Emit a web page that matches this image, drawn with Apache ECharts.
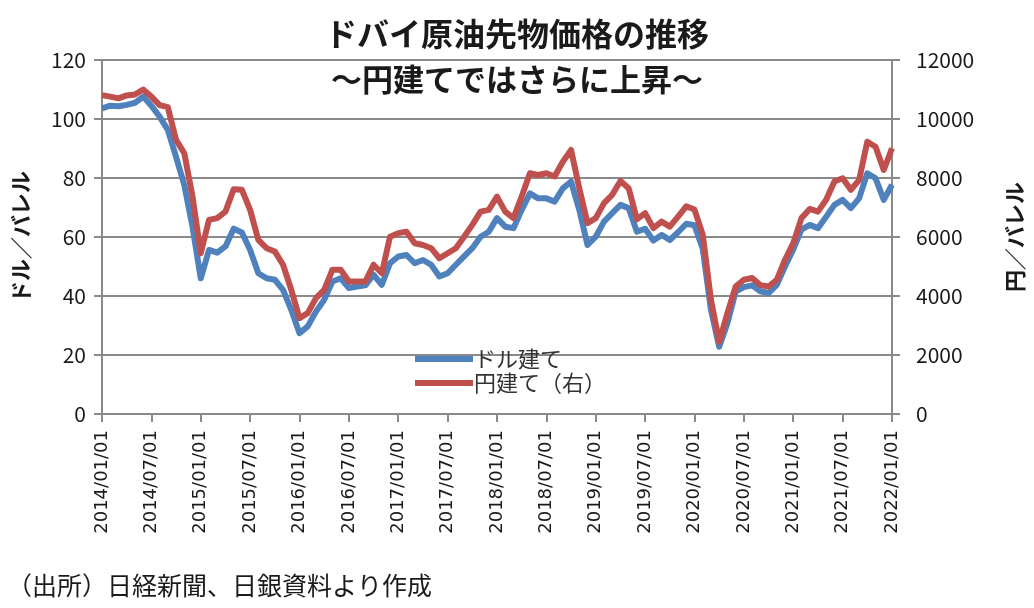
<!DOCTYPE html>
<html>
<head>
<meta charset="utf-8">
<script src="https://cdn.jsdelivr.net/npm/echarts@6/dist/echarts.min.js"></script>
<style>
html,body{margin:0;padding:0;background:#fff;}
#chart{width:1034px;height:608px;}
</style>
</head>
<body>
<div id="chart"></div>
<script>
// Monthly categories 2014/01 .. 2022/01
const categories = [
  "2014/01/01","2014/02/01","2014/03/01","2014/04/01","2014/05/01","2014/06/01","2014/07/01","2014/08/01","2014/09/01","2014/10/01","2014/11/01","2014/12/01",
  "2015/01/01","2015/02/01","2015/03/01","2015/04/01","2015/05/01","2015/06/01","2015/07/01","2015/08/01","2015/09/01","2015/10/01","2015/11/01","2015/12/01",
  "2016/01/01","2016/02/01","2016/03/01","2016/04/01","2016/05/01","2016/06/01","2016/07/01","2016/08/01","2016/09/01","2016/10/01","2016/11/01","2016/12/01",
  "2017/01/01","2017/02/01","2017/03/01","2017/04/01","2017/05/01","2017/06/01","2017/07/01","2017/08/01","2017/09/01","2017/10/01","2017/11/01","2017/12/01",
  "2018/01/01","2018/02/01","2018/03/01","2018/04/01","2018/05/01","2018/06/01","2018/07/01","2018/08/01","2018/09/01","2018/10/01","2018/11/01","2018/12/01",
  "2019/01/01","2019/02/01","2019/03/01","2019/04/01","2019/05/01","2019/06/01","2019/07/01","2019/08/01","2019/09/01","2019/10/01","2019/11/01","2019/12/01",
  "2020/01/01","2020/02/01","2020/03/01","2020/04/01","2020/05/01","2020/06/01","2020/07/01","2020/08/01","2020/09/01","2020/10/01","2020/11/01","2020/12/01",
  "2021/01/01","2021/02/01","2021/03/01","2021/04/01","2021/05/01","2021/06/01","2021/07/01","2021/08/01","2021/09/01","2021/10/01","2021/11/01","2021/12/01",
  "2022/01/01"
];

// ドル建て (USD/bbl, left axis)
const usdValues = [
  103.6,104.5,104.3,104.8,105.5,107.6,104.5,100.8,96.3,87.2,77.6,63.5,
  46.0,55.6,54.7,56.8,62.8,61.5,55.6,47.7,46.0,45.5,42.1,35.3,
  27.4,29.7,34.7,38.7,44.9,46.0,42.7,43.2,43.6,47.2,43.8,51.1,
  53.4,53.9,51.1,52.2,50.6,46.6,47.7,50.6,53.4,56.2,60.1,61.8,
  66.4,63.5,63.0,69.2,74.8,73.1,73.1,72.0,76.5,78.8,69.2,57.3,
  60.1,65.2,68.1,70.9,69.8,61.8,62.8,58.8,60.7,59.0,61.6,64.5,
  64.0,56.0,35.3,22.8,30.8,41.5,43.0,43.6,41.6,41.0,43.8,50.0,
  55.8,62.5,64.1,63.0,66.9,70.9,72.6,69.8,73.1,81.6,79.9,72.6,
  77.7
];

// 円建て (JPY/bbl, right axis)
const jpyValues = [
  10810,10760,10700,10800,10830,11000,10760,10470,10400,9290,8840,7370,
  5450,6580,6640,6860,7620,7600,6920,5900,5620,5510,5060,4210,
  3250,3420,3930,4210,4890,4890,4490,4490,4490,5060,4770,6010,
  6130,6180,5790,5730,5620,5280,5450,5620,6010,6410,6860,6920,
  7370,6860,6640,7370,8160,8100,8160,8050,8550,8950,7650,6470,
  6640,7150,7430,7900,7650,6600,6810,6300,6520,6350,6690,7040,
  6930,6080,3870,2440,3420,4320,4550,4610,4370,4320,4550,5230,
  5790,6640,6950,6860,7260,7880,7990,7600,7930,9230,9060,8270,
  9010
];

const leftTicks = {min: 0, max: 120, interval: 20};
const rightTicks = {min: 0, max: 12000, interval: 2000};

const seriesNames = ["ドル建て", "円建て（右）"];
const titleText = "ドバイ原油先物価格の推移";
const subtitleText = "～円建てではさらに上昇～";
const sourceText = "（出所）日経新聞、日銀資料より作成";

const FONT = '"Noto Sans CJK JP", "Noto Sans", sans-serif';
const GRID = '#8a8a8a';
const TXT = '#1a1a1a';

const chart = echarts.init(document.getElementById('chart'));
chart.setOption({
  animation: false,
  backgroundColor: '#fff',
  textStyle: {fontFamily: FONT},
  title: [
    {text: titleText, left: 'center', top: 13,
     textStyle: {fontFamily: FONT, fontSize: 32, fontWeight: 'bold', color: TXT}},
    {text: subtitleText, left: 'center', top: 59,
     textStyle: {fontFamily: FONT, fontSize: 31, fontWeight: 'bold', color: TXT}},
    {text: sourceText, left: 2, top: 568,
     textStyle: {fontFamily: FONT, fontSize: 25, fontWeight: 'normal', color: TXT}}
  ],
  legend: {
    orient: 'vertical',
    left: 410, top: 343,
    itemWidth: 58, itemHeight: 6, itemGap: 2,
    icon: 'rect',
    textStyle: {fontFamily: FONT, fontSize: 22, color: '#333', padding: [0,0,0,-4]},
    data: seriesNames
  },
  grid: {left: 102, right: 141, top: 60, bottom: 194, containLabel: false},
  xAxis: {
    type: 'category',
    data: categories,
    boundaryGap: false,
    axisLine: {show: true, lineStyle: {color: GRID, width: 2}},
    axisTick: {show: true, interval: 5, length: 8, lineStyle: {color: GRID, width: 2}},
    axisLabel: {interval: 5, rotate: 90, margin: 16, color: TXT,
      fontFamily: '"DejaVu Sans", sans-serif', fontSize: 18},
    splitLine: {show: false}
  },
  yAxis: [
    {type: 'value', min: leftTicks.min, max: leftTicks.max, interval: leftTicks.interval,
     position: 'left',
     name: 'ドル／バレル', nameLocation: 'middle', nameRotate: 90, nameGap: 70,
     nameTextStyle: {fontFamily: FONT, fontSize: 22, fontWeight: 'bold', color: TXT},
     axisLine: {show: true, lineStyle: {color: GRID, width: 2}},
     axisTick: {show: true, length: 8, lineStyle: {color: GRID, width: 2}},
     axisLabel: {margin: 16, color: TXT, fontFamily: FONT, fontSize: 21},
     splitLine: {show: true, lineStyle: {color: GRID, width: 2}}},
    {type: 'value', min: rightTicks.min, max: rightTicks.max, interval: rightTicks.interval,
     position: 'right',
     name: '円／バレル', nameLocation: 'middle', nameRotate: 90, nameGap: 112,
     nameTextStyle: {fontFamily: FONT, fontSize: 22, fontWeight: 'bold', color: TXT},
     axisLine: {show: true, lineStyle: {color: GRID, width: 2}},
     axisTick: {show: true, length: 8, lineStyle: {color: GRID, width: 2}},
     axisLabel: {margin: 24, color: TXT, fontFamily: FONT, fontSize: 21,
       formatter: function (v) { return String(v); }},
     splitLine: {show: false}}
  ],
  series: [
    {name: seriesNames[0], type: 'line', yAxisIndex: 0, data: usdValues,
     showSymbol: false, symbol: 'none', color: '#4F81BD',
     lineStyle: {width: 6, color: '#4F81BD', join: 'round'}, z: 2},
    {name: seriesNames[1], type: 'line', yAxisIndex: 1, data: jpyValues,
     showSymbol: false, symbol: 'none', color: '#C0504D',
     lineStyle: {width: 6, color: '#C0504D', join: 'round'}, z: 3}
  ]
});
</script>
</body>
</html>
